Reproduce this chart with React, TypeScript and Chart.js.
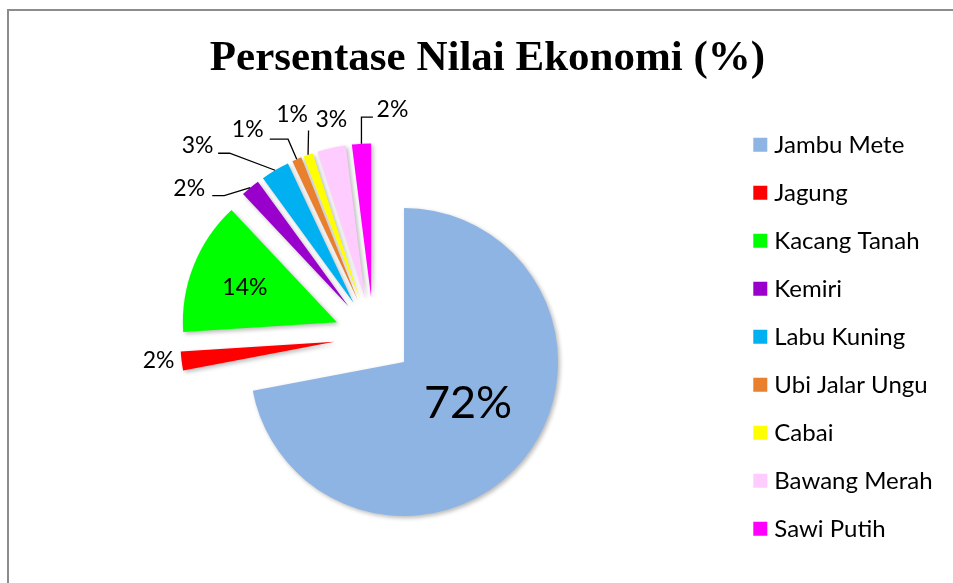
import React, { useEffect, useRef } from 'react';
import { Chart, registerables } from 'chart.js';

Chart.register(...registerables);

// ---- data ----
const categories = [
  'Jambu Mete',
  'Jagung',
  'Kacang Tanah',
  'Kemiri',
  'Labu Kuning',
  'Ubi Jalar Ungu',
  'Cabai',
  'Bawang Merah',
  'Sawi Putih',
];
const values = [72, 2, 14, 2, 3, 1, 1, 3, 2];
const sliceColors = [
  '#8EB4E3',
  '#FF0000',
  '#00FF00',
  '#9900CC',
  '#00B0F0',
  '#E8802E',
  '#FFFF00',
  '#FFCCFF',
  '#FF00FF',
];
const chartTitle = 'Persentase Nilai Ekonomi (%)';

// ---- layout / style ----
const WIDTH = 953;
const HEIGHT = 583;
const PIE_CENTER_X = 373.6;
const LEGEND_LEFT = 734.3;
const TITLE_CENTER_X = 487.5;
const PIE_RADIUS = 154;
const EXPLODE = 39.5;
const FONT = 'Lato, "Open Sans", sans-serif';

// label placement: inside labels relative to slice apex, outside labels relative to the outer middle of the slice
type LabelCfg = { inside: boolean; dx: number; dy: number; size?: number; leader?: [number, number][] };
const labelLayout: LabelCfg[] = [
  { inside: true, dx: 64, dy: 42, size: 45 },
  { inside: false, dx: -23, dy: 0 },
  { inside: true, dx: -92, dy: -35 },
  { inside: false, dx: -61, dy: 1, leader: [[-26, 8], [-38, 8]] },
  { inside: false, dx: -77.5, dy: -24.4, leader: [[-45.5, -17], [-57, -17]] },
  { inside: false, dx: -49, dy: -29.4, leader: [[-8.7, -20], [-27, -20]] },
  { inside: false, dx: -16, dy: -40, leader: [[0.5, -24.3]] },
  { inside: false, dx: 0, dy: -28 },
  { inside: false, dx: 31, dy: -34, leader: [[0, -26.6], [11.5, -26.6]] },
];

export default function App() {
  const ref = useRef<HTMLCanvasElement>(null);

  useEffect(() => {
    const canvas = ref.current!;

    const explodePlugin = {
      id: 'explodeSlices',
      afterLayout(chart: any) {
        const t = chart.titleBlock;
        if (t) {
          const shift = TITLE_CENTER_X - (t.left + t.right) / 2;
          t.left += shift;
          t.right += shift;
        }
      },
      afterDatasetsUpdate(chart: any) {
        const meta = chart.getDatasetMeta(0);
        meta.data.forEach((arc: any) => {
          const mid = (arc.startAngle + arc.endAngle) / 2;
          arc.x = arc.x + Math.cos(mid) * EXPLODE;
          arc.y = arc.y + Math.sin(mid) * EXPLODE;
        });
      },
    };

    const labelPlugin = {
      id: 'sliceLabels',
      beforeDatasetsDraw(chart: any) {
        const ctx = chart.ctx;
        ctx.save();
        ctx.shadowColor = 'rgba(0,0,0,0.28)';
        ctx.shadowBlur = 4;
        ctx.shadowOffsetX = 2;
        ctx.shadowOffsetY = 2;
      },
      afterDatasetsDraw(chart: any) {
        const ctx = chart.ctx;
        ctx.restore();
        const meta = chart.getDatasetMeta(0);
        ctx.save();
        meta.data.forEach((arc: any, i: number) => {
          const cfg = labelLayout[i];
          const mid = (arc.startAngle + arc.endAngle) / 2;
          const r = arc.outerRadius;
          const bx = cfg.inside ? arc.x : arc.x + Math.cos(mid) * r;
          const by = cfg.inside ? arc.y : arc.y + Math.sin(mid) * r;
          if (cfg.leader) {
            ctx.beginPath();
            ctx.moveTo(bx, by);
            cfg.leader.forEach(([dx, dy]) => ctx.lineTo(bx + dx, by + dy));
            ctx.strokeStyle = '#000';
            ctx.lineWidth = 1.3;
            ctx.stroke();
          }
          ctx.font = `${cfg.size ?? 23}px ${FONT}`;
          ctx.fillStyle = '#000';
          ctx.textAlign = 'center';
          ctx.textBaseline = 'middle';
          ctx.fillText(`${values[i]}%`, bx + cfg.dx, by + cfg.dy);
        });
        ctx.restore();
      },
    };

    const chart = new Chart(canvas, {
      type: 'pie',
      data: {
        labels: categories,
        datasets: [
          {
            data: values,
            backgroundColor: sliceColors,
            borderWidth: 0,
            hoverOffset: 0,
            radius: PIE_RADIUS,
          } as any,
        ],
      },
      options: {
        responsive: false,
        animation: false,
        devicePixelRatio: 1,
        events: [],
        layout: {
          autoPadding: false,
          padding: { left: 2 * PIE_CENTER_X - LEGEND_LEFT, right: 0, top: 0, bottom: 0 },
        },
        plugins: {
          tooltip: { enabled: false },
          title: {
            display: true,
            text: chartTitle,
            color: '#000',
            font: { family: '"Liberation Serif", "Times New Roman", serif', size: 43, weight: 'bold', lineHeight: 1.2 },
            padding: { top: 33, bottom: 6 },
          },
          legend: {
            position: 'right',
            align: 'center',
            fullSize: false,
            labels: {
              usePointStyle: true,
              pointStyle: 'rect',
              boxWidth: 4,
              boxHeight: 14,
              padding: 24,
              color: '#000',
              font: { family: FONT, size: 24 },
            },
          },
        },
      } as any,
      plugins: [explodePlugin, labelPlugin],
    });

    const lw = chart.legend ? chart.legend.width : 0;
    (chart.options as any).layout.padding = {
      left: 2 * PIE_CENTER_X - LEGEND_LEFT,
      right: WIDTH - LEGEND_LEFT - lw,
      top: 0,
      bottom: 0,
    };
    chart.update();

    return () => chart.destroy();
  }, []);

  return (
    <div>
      <div
        style={{
          position: 'fixed',
          left: 7,
          top: 9,
          width: 2000,
          height: 2000,
          borderTop: '2px solid #8c8c8c',
          borderLeft: '2px solid #8c8c8c',
          boxSizing: 'border-box',
        }}
      />
      <canvas
        ref={ref}
        width={WIDTH}
        height={HEIGHT}
        style={{ position: 'fixed', left: 0, top: 0, width: WIDTH, height: HEIGHT }}
      />
    </div>
  );
}
